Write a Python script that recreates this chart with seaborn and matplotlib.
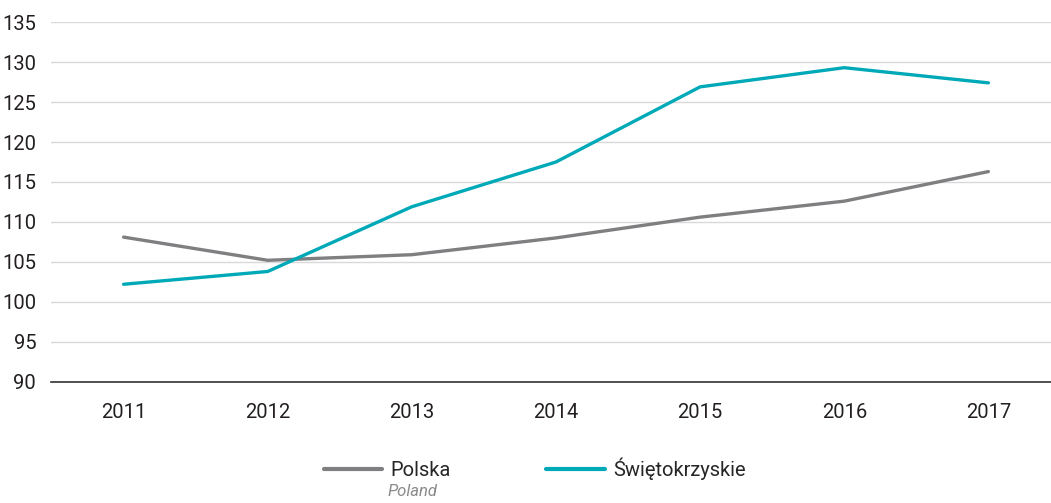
import pandas as pd
import seaborn as sns
import matplotlib.pyplot as plt

years = ['2011', '2012', '2013', '2014', '2015', '2016', '2017']
polska = [108.1, 105.2, 105.9, 108.0, 110.6, 112.6, 116.3]
swietokrzyskie = [102.2, 103.8, 111.9, 117.5, 126.9, 129.3, 127.4]
series_names = ['Polska', 'Świętokrzyskie']
y_ticks = [90, 95, 100, 105, 110, 115, 120, 125, 130, 135]

df = pd.DataFrame({
    'year': years * 2,
    'value': polska + swietokrzyskie,
    'series': [series_names[0]] * len(years) + [series_names[1]] * len(years),
})

sns.set_theme(style='white')
plt.rcParams['font.family'] = ['Roboto', 'DejaVu Sans']

fig = plt.figure(figsize=(10.51, 5.03), dpi=100)
ax = fig.add_axes([0.049, 0.241, 0.960, 0.715])

sns.lineplot(data=df, x='year', y='value', hue='series', sort=False,
             palette={'Polska': '#7f7f82', 'Świętokrzyskie': '#00a9b8'},
             linewidth=2.4, ax=ax)

ax.set_xlim(-0.5, len(years) - 0.5)
ax.set_ylim(90, 135)
ax.set_yticks(y_ticks)
ax.yaxis.grid(True, color='#d9d9d9', linewidth=1)
ax.set_axisbelow(True)
for side in ['top', 'right', 'left']:
    ax.spines[side].set_visible(False)
ax.spines['bottom'].set_color('#333333')
ax.spines['bottom'].set_linewidth(1.2)
ax.tick_params(axis='both', length=0, labelsize=14.5, colors='#231f20')
ax.tick_params(axis='y', pad=11)
ax.tick_params(axis='x', pad=15)
ax.set_xlabel('')
ax.set_ylabel('')

sns.move_legend(ax, 'center left', bbox_to_anchor=(0.291, 0.068),
                bbox_transform=fig.transFigure, ncol=2, frameon=False,
                title=None, fontsize=14.5, handlelength=2.9, handletextpad=0.4,
                columnspacing=4.75)
for line in ax.get_legend().get_lines():
    line.set_linewidth(3)

fig.text(0.369, 0.022, 'Poland', fontsize=12, style='italic',
         color='#8a8a8c', ha='left', va='center')

plt.savefig('out.png', dpi=100)
